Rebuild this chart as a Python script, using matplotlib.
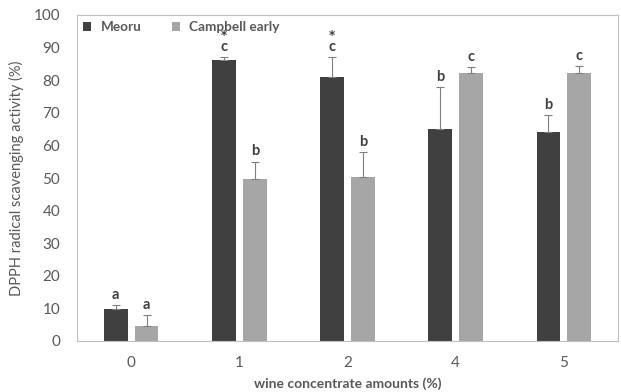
import numpy as np
import matplotlib
matplotlib.use('Agg')
import matplotlib.pyplot as plt

# DATA
groups = ['0', '1', '2', '4', '5']
meoru = [9.8, 86.2, 80.9, 65.0, 64.1]
meoru_err = [1.2, 0.8, 6.1, 12.8, 5.1]
campbell = [4.6, 49.7, 50.3, 82.1, 82.1]
campbell_err = [3.4, 5.3, 7.6, 1.9, 2.2]
meoru_letters = ['a', 'c', 'c', 'b', 'b']
meoru_star = ['', '*', '*', '', '']
campbell_letters = ['a', 'b', 'b', 'c', 'c']

DARK = '#404040'
LIGHT = '#a6a6a6'
TEXT = '#595959'

plt.rcParams['font.family'] = ['Lato', 'DejaVu Sans']

fig = plt.figure(figsize=(6.21, 3.92), dpi=100)
ax = fig.add_axes([77 / 621, 1 - 341 / 392, 541 / 621, 326 / 392])

x = np.arange(len(groups))
w = 0.22
off = 0.143
ekw = dict(ecolor='#7f7f7f', elinewidth=0.8, capsize=3, capthick=0.8)

ax.bar(x - off, meoru, w, color=DARK, label='Meoru',
       yerr=[np.zeros(len(x)), meoru_err], error_kw=ekw)
ax.bar(x + off, campbell, w, color=LIGHT, label='Campbell early',
       yerr=[np.zeros(len(x)), campbell_err], error_kw=ekw)

for i in range(len(x)):
    ax.text(x[i] - off, meoru[i] + meoru_err[i] + 1, meoru_letters[i], ha='center', va='bottom',
            fontsize=10.5, fontweight='bold', color='#404040')
    if meoru_star[i]:
        # asterisk sits high in its box, so anchor it by the baseline
        ax.text(x[i] - off, meoru[i] + meoru_err[i] + 5.6, meoru_star[i], ha='center', va='baseline',
                fontsize=8.5, fontweight='bold', color='#404040', family='DejaVu Sans', zorder=5)
    ax.text(x[i] + off, campbell[i] + campbell_err[i] + 1, campbell_letters[i], ha='center', va='bottom',
            fontsize=10.5, fontweight='bold', color='#404040')

ax.set_xlim(-0.5, len(groups) - 0.5)
ax.set_ylim(0, 100)
ax.set_yticks(range(0, 101, 10))
ax.set_xticks(x)
ax.set_xticklabels(groups)
ax.tick_params(length=0, labelsize=11, labelcolor=TEXT)
ax.tick_params(axis='y', pad=12)
ax.tick_params(axis='x', pad=11)
for sp in ax.spines.values():
    sp.set_color('#bfbfbf')
    sp.set_linewidth(0.8)

ax.set_ylabel('DPPH radical scavenging activity (%)', fontsize=10.5, color=TEXT, labelpad=7)
ax.set_xlabel('wine concentrate amounts (%)', fontsize=10, fontweight='bold', color=TEXT, labelpad=5)

leg = ax.legend(loc='upper left', ncol=2, frameon=False, handlelength=0.6, handleheight=0.6,
                handletextpad=0.7, columnspacing=2.2, borderaxespad=0.15, borderpad=0.3,
                prop=dict(weight='bold', size=9.8))
for t in leg.get_texts():
    t.set_color(TEXT)

fig.savefig('out.png', dpi=100)
